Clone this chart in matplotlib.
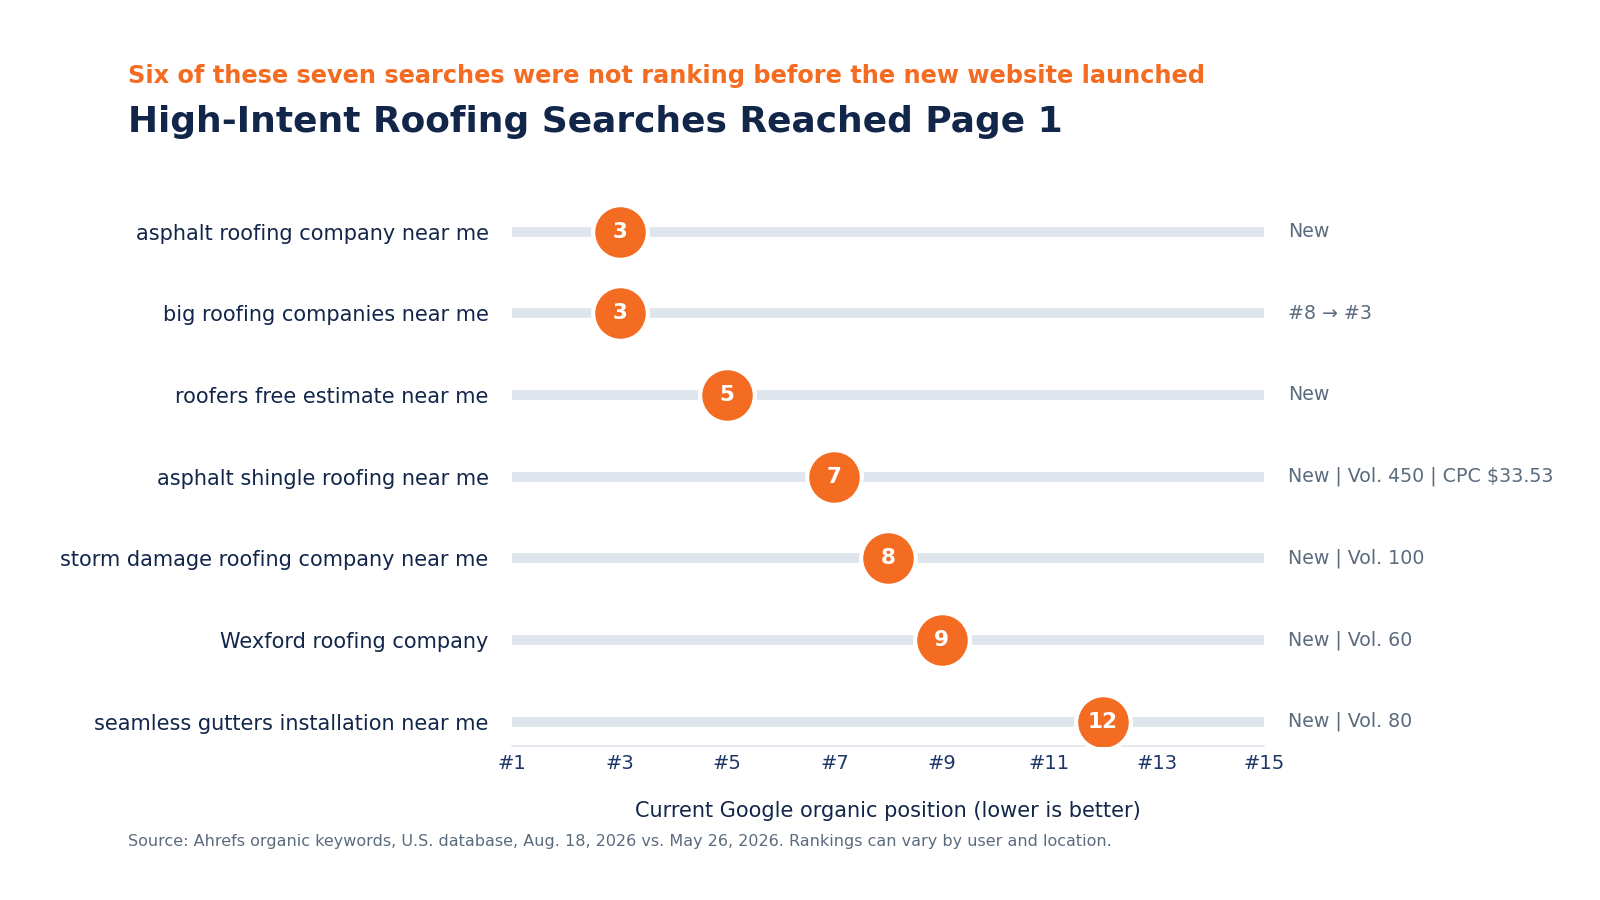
import matplotlib
matplotlib.use("Agg")
import matplotlib.pyplot as plt

keywords = ["asphalt roofing company near me", "big roofing companies near me",
            "roofers free estimate near me", "asphalt shingle roofing near me",
            "storm damage roofing company near me", "Wexford roofing company",
            "seamless gutters installation near me"]
positions = [3, 3, 5, 7, 8, 9, 12]
notes = ["New", "#8 \u2192 #3", "New", "New | Vol. 450 | CPC $33.53",
         "New | Vol. 100", "New | Vol. 60", "New | Vol. 80"]
xticks = [1, 3, 5, 7, 9, 11, 13, 15]
xticklabels = ["#" + str(t) for t in xticks]

ORANGE = "#F46B22"
NAVY = "#12264A"
GRAY = "#5B6B7E"
TRACK = "#DEE5EC"

plt.rcParams['font.family'] = ['DejaVu Sans']
fig = plt.figure(figsize=(16, 9), dpi=100)
ax = fig.add_axes([0.3202, 0.171, 0.4698, 0.599])

ys = list(range(len(keywords)))
for y in ys:
    ax.plot([1, 15], [y, y], color=TRACK, lw=7, solid_capstyle='butt', zorder=1)
ax.scatter(positions, ys, s=1550, color=ORANGE, edgecolor='white', linewidth=3, zorder=3)
for p, y in zip(positions, ys):
    ax.text(p, y, str(p), ha='center', va='center', color='white', fontsize=15.5,
            fontweight='bold', zorder=4)
for y, n in zip(ys, notes):
    ax.text(15.45, y, n, ha='left', va='center', color=GRAY, fontsize=13.7)

ax.set_xlim(1, 15)
ax.set_ylim(6.3, -0.3)
ax.set_yticks(ys)
ax.set_yticklabels(keywords, fontsize=15, color=NAVY)
ax.set_xticks(xticks)
ax.set_xticklabels(xticklabels, fontsize=14, color="#1E3766")
ax.tick_params(axis='both', length=0)
ax.tick_params(axis='y', pad=17)
ax.tick_params(axis='x', pad=6)
for s in ['top', 'right', 'left']:
    ax.spines[s].set_visible(False)
ax.spines['bottom'].set_color(TRACK)
ax.spines['bottom'].set_linewidth(1.2)
ax.set_xlabel("Current Google organic position (lower is better)", fontsize=15,
              color=NAVY, labelpad=20)

fig.text(0.0797, 0.916, "Six of these seven searches were not ranking before the new website launched",
         color=ORANGE, fontsize=17.25, fontweight='bold', ha='left', va='center')
fig.text(0.0797, 0.8645, "High-Intent Roofing Searches Reached Page 1",
         color=NAVY, fontsize=25.9, fontweight='bold', ha='left', va='center')
fig.text(0.0797, 0.0647, "Source: Ahrefs organic keywords, U.S. database, Aug. 18, 2026 vs. May 26, 2026. Rankings can vary by user and location.",
         color=GRAY, fontsize=11.5, ha='left', va='center')

fig.savefig("out.png", dpi=100, facecolor='white')
